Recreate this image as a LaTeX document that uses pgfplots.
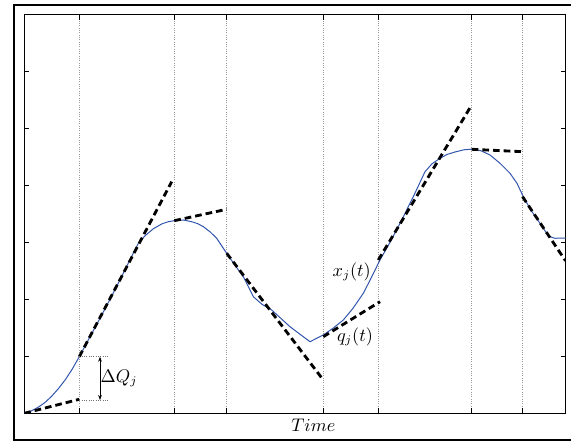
\documentclass[border=0pt]{standalone}
\usepackage{pgfplots}
\pgfplotsset{compat=1.18}
\usetikzlibrary{arrows.meta}
\definecolor{curveblue}{RGB}{50,85,175}
\begin{document}
\begin{tikzpicture}
\begin{scope}[x=0.6pt,y=-0.6pt]
\useasboundingbox (0,0) rectangle (571,441);
\draw[line width=1.3pt] (571,4.7) -- (14,4.7) -- (14,440) -- (571,440);
\end{scope}
\begin{axis}[at={(14.58pt,-247.98pt)}, anchor=south west,
  width=324.72pt, height=239.16pt, scale only axis,
  xmin=24.3, xmax=565.5, ymin=0, ymax=398.6,
  xtick={79.3,174.3,226.5,323.3,378.3,471.7,522.5},
  ytick={0,56.94,113.89,170.83,227.77,284.71,341.66,398.6},
  xticklabels={}, yticklabels={},
  tick align=inside, major tick length=3pt,
  xmajorgrids, grid style={densely dotted, gray!80, line width=0.4pt},
  axis line style={line width=0.7pt},
  tick style={line width=0.7pt, black},
  clip=true]
% signal x_j(t)
\addplot[curveblue, line width=0.6pt] coordinates {
(24.3,0) (31,2.2) (38.05,5.95) (45,10.8) (51.8,17.16) (58.5,24.8) (65.55,33.9) (72.5,44.6) (79.3,56.6)
(90,76.5) (100,95) (110,114) (120,133.5) (130,153.5) (138.3,170)
(145,177.5) (153.3,184.5) (162,189.5) (168,191.5) (174,192.6) (183.3,193.3) (192,191.5) (198,189.5) (203.3,186.6)
(210,181.5) (216.7,175) (226.7,160) (235,148) (243.3,136.6) (253.3,116.6)
(262,109) (271.7,103.3) (290,86.6) (310,71.6) (323.3,78.3) (333,85) (343.3,93.3)
(353,105) (363.3,120) (371,135) (380,153.3) (390,171) (401.7,193.3) (413,216) (425,241.6)
(432,249.5) (440,255) (447,258.8) (455,261.3) (464,263.5) (473.3,264.3) (481,262.5) (490,258.3)
(500,250) (510,240) (517,230) (523.3,216.6) (531,203) (540,190) (545,182.5) (550,176.6)
(555,175) (560,175.2) (566,175.3)
};
% tangent lines q_j(t)
\addplot[black, line width=1.7pt, dash pattern=on 4pt off 2.4pt] coordinates {(24.3,0) (79.3,14)};
\addplot[black, line width=1.7pt, dash pattern=on 4pt off 2.4pt] coordinates {(79.3,56.6) (171.7,231.6)};
\addplot[black, line width=1.7pt, dash pattern=on 4pt off 2.4pt] coordinates {(174.3,192.6) (226.7,204)};
\addplot[black, line width=1.7pt, dash pattern=on 4pt off 2.4pt] coordinates {(226.7,160) (323.3,33.3)};
\addplot[black, line width=1.7pt, dash pattern=on 4pt off 2.4pt] coordinates {(323.3,76.6) (380,111.6)};
\addplot[black, line width=1.7pt, dash pattern=on 4pt off 2.4pt] coordinates {(378.3,153.3) (471.7,308.3)};
\addplot[black, line width=1.7pt, dash pattern=on 4pt off 2.4pt] coordinates {(471.7,264) (522.7,261.6)};
\addplot[black, line width=1.7pt, dash pattern=on 4pt off 2.4pt] coordinates {(522.5,216.6) (565.5,152.5)};
% Delta Q annotation
\draw[densely dotted, gray!90!black, line width=0.4pt] (axis cs:79.3,56.6) -- (axis cs:108,56.6);
\draw[densely dotted, gray!90!black, line width=0.4pt] (axis cs:79.3,13.3) -- (axis cs:108,13.3);
\draw[{Stealth[length=3pt,width=2.2pt]}-{Stealth[length=3pt,width=2.2pt]}, line width=0.4pt] (axis cs:100,56.6) -- (axis cs:100,13.3);
\node[font=\fontsize{10.5}{12}\selectfont] at (axis cs:119,35) {$\Delta Q_j$};
\node[font=\fontsize{10.5}{12}\selectfont] at (axis cs:351.7,141.6) {$x_j(t)$};
\node[font=\fontsize{10.5}{12}\selectfont] at (axis cs:355,76.6) {$q_j(t)$};
\end{axis}
\begin{scope}[x=0.6pt,y=-0.6pt]
\node[font=\fontsize{10.5}{12}\selectfont] at (313.3,425) {$Time$};
\end{scope}
\end{tikzpicture}
\end{document}
